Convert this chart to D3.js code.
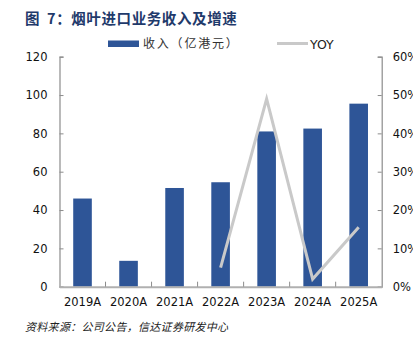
<!DOCTYPE html>
<html><head><meta charset="utf-8">
<script src="https://cdn.jsdelivr.net/npm/d3@7"></script>
<style>body{margin:0;background:#fff;} svg{display:block;}</style>
</head><body>
<svg id="c" width="413" height="340"></svg>
<script>
const categories = ["2019A","2020A","2021A","2022A","2023A","2024A","2025A"];
const revenue = [46, 13.5, 51.5, 54.5, 81, 82.5, 95.5];
const yoyCats = ["2022A","2023A","2024A","2025A"];
const yoy = [0.05, 0.49, 0.02, 0.155];
const leftTicks = [0,20,40,60,80,100,120];
const rightTicks = [0,0.1,0.2,0.3,0.4,0.5,0.6];

const svg = d3.select("#c");
const L = 59.5, R = 381.7, T = 56.7, B = 286.7;
const numFont = "DejaVu Sans, Verdana, sans-serif";
const cjk = "'Noto Sans CJK SC', sans-serif";

const xb = d3.scaleBand().domain(categories).range([L, R]);
const y = d3.scaleLinear().domain([0,120]).range([B, T]);
const y2 = d3.scaleLinear().domain([0,0.6]).range([B, T]);

// title
const title = svg.append("text").attr("x",25).attr("y",24).attr("font-family",cjk).attr("font-weight","bold")
  .attr("font-size",14.5).attr("fill","#1f3a6b").attr("letter-spacing",0.6);
title.append("tspan").text("图 ");
title.append("tspan").attr("dx",3).text("7：烟叶进口业务收入及增速");

// bars
svg.append("g").selectAll("rect").data(categories).join("rect")
  .attr("x", d=>xb(d)+xb.bandwidth()/2-9.3).attr("width",18.6)
  .attr("y",(d,i)=>y(revenue[i])).attr("height",(d,i)=>B-y(revenue[i]))
  .attr("fill","#2e5597");

// axes
const axColor = "#8c8c8c";
const gl = svg.append("g").attr("transform",`translate(${L},0)`)
  .call(d3.axisLeft(y).tickValues(leftTicks).tickSize(-4).tickPadding(12));
const gr = svg.append("g").attr("transform",`translate(${R},0)`)
  .call(d3.axisRight(y2).tickValues(rightTicks).tickSize(-4).tickPadding(11).tickFormat(d3.format(".0%")));
const gb = svg.append("g").attr("transform",`translate(0,${B})`)
  .call(d3.axisBottom(xb).tickSize(0).tickPadding(11));
[gl,gr,gb].forEach(g=>{
  g.select(".domain").attr("stroke",axColor).attr("stroke-width",1.2);
  g.selectAll(".tick line").attr("stroke",axColor);
  g.selectAll("text").attr("font-family",numFont).attr("font-size",11.5).attr("fill","#111");
});
gb.select(".domain").attr("stroke","#b0b0b0").attr("stroke-width",2);
// bottom boundary ticks
svg.append("g").selectAll("line").data(categories.slice(1)).join("line")
  .attr("x1",d=>xb(d)).attr("x2",d=>xb(d)).attr("y1",B).attr("y2",B-5)
  .attr("stroke",axColor);

// line
const line = d3.line().x((d,i)=>xb(yoyCats[i])+xb.bandwidth()/2).y(d=>y2(d));
svg.append("path").datum(yoy).attr("d",line).attr("fill","none")
  .attr("stroke","#c9c9c9").attr("stroke-width",3);

// legend
svg.append("rect").attr("x",108).attr("y",40.5).attr("width",31).attr("height",6.5).attr("fill","#2e5597");
svg.append("text").attr("x",143).attr("y",48).attr("font-family",cjk).attr("font-size",12).attr("fill","#333")
  .attr("letter-spacing",1.8).text("收入（亿港元）");
svg.append("line").attr("x1",277).attr("x2",308).attr("y1",43.5).attr("y2",43.5).attr("stroke","#c9c9c9").attr("stroke-width",3);
svg.append("text").attr("x",310).attr("y",48.5).attr("font-family",numFont).attr("font-size",12.5).attr("fill","#222").text("YOY");

// source
svg.append("text").attr("x",25).attr("y",331).attr("font-family",cjk).attr("font-style","italic")
  .attr("font-size",11).attr("fill","#222").attr("letter-spacing",0.3).text("资料来源：公司公告，信达证券研发中心");
</script>
</body></html>
